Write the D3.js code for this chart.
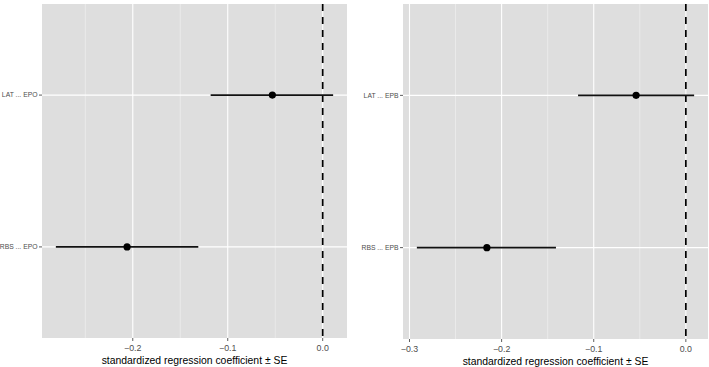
<!DOCTYPE html>
<html>
<head>
<meta charset="utf-8">
<script src="https://cdn.jsdelivr.net/npm/d3@7"></script>
<style>
  body { margin: 0; background: #fff; }
  text { font-family: "Liberation Sans", Arial, Helvetica, sans-serif; }
</style>
</head>
<body>
<div id="chart"></div>
<script>
// values (estimate, lower, upper = est ± SE)
const labelsEPO = ["LAT ... EPO", "RBS ... EPO"];
const estEPO = [-0.053, -0.206];
const lowEPO = [-0.118, -0.281];
const highEPO = [0.011, -0.131];
const ticksEPO = [-0.2, -0.1, 0.0];

const labelsEPB = ["LAT ... EPB", "RBS ... EPB"];
const estEPB = [-0.054, -0.216];
const lowEPB = [-0.117, -0.292];
const highEPB = [0.009, -0.141];
const ticksEPB = [-0.3, -0.2, -0.1, 0.0];

const xTitle = "standardized regression coefficient \u00b1 SE";

const width = 709;
const height = 367;

const svg = d3.select("#chart")
  .append("svg")
  .attr("width", width)
  .attr("height", height);

function drawPanel(p) {
  const rows = p.labels.map((lab, i) => ({ lab: lab, est: p.est[i], lo: p.lo[i], hi: p.hi[i] }));

  // ggplot style 5% expansion of the data range (including the zero line)
  const lo = Math.min(0, d3.min(p.lo));
  const hi = Math.max(0, d3.max(p.hi));
  const pad = (hi - lo) * 0.05;

  const x = d3.scaleLinear().domain([lo - pad, hi + pad]).range([p.left, p.right]);
  const y = d3.scalePoint().domain(p.labels).range([p.top, p.bottom]).padding(0.6);

  const g = svg.append("g");

  // panel background
  g.append("rect")
    .attr("x", p.left)
    .attr("y", p.top)
    .attr("width", p.right - p.left)
    .attr("height", p.bottom - p.top)
    .attr("fill", "#dedede");

  // minor grid (half way between ticks)
  const minor = [];
  const step = 0.1;
  for (let v = Math.ceil((lo - pad) / step) * step - step / 2; v < hi + pad; v += step) {
    if (v > lo - pad) minor.push(v);
  }
  g.selectAll(".minor")
    .data(minor)
    .join("line")
    .attr("class", "minor")
    .attr("x1", (d) => x(d))
    .attr("x2", (d) => x(d))
    .attr("y1", p.top)
    .attr("y2", p.bottom)
    .attr("stroke", "#f2f2f2")
    .attr("stroke-width", 0.6);

  // major grid
  g.selectAll(".vmajor")
    .data(p.ticks)
    .join("line")
    .attr("class", "vmajor")
    .attr("x1", (d) => x(d))
    .attr("x2", (d) => x(d))
    .attr("y1", p.top)
    .attr("y2", p.bottom)
    .attr("stroke", "#ffffff")
    .attr("stroke-width", 1.1);

  g.selectAll(".hmajor")
    .data(p.labels)
    .join("line")
    .attr("class", "hmajor")
    .attr("x1", p.left)
    .attr("x2", p.right)
    .attr("y1", (d) => y(d))
    .attr("y2", (d) => y(d))
    .attr("stroke", "#ffffff")
    .attr("stroke-width", 1.1);

  // dashed zero line
  g.append("line")
    .attr("x1", x(0))
    .attr("x2", x(0))
    .attr("y1", p.top)
    .attr("y2", p.bottom)
    .attr("stroke", "#000")
    .attr("stroke-width", 1.7)
    .attr("stroke-dasharray", "7,6");

  // error bars
  g.selectAll(".bar")
    .data(rows)
    .join("line")
    .attr("class", "bar")
    .attr("x1", (d) => x(d.lo))
    .attr("x2", (d) => x(d.hi))
    .attr("y1", (d) => y(d.lab))
    .attr("y2", (d) => y(d.lab))
    .attr("stroke", "#111")
    .attr("stroke-width", 1.6);

  g.selectAll(".pt")
    .data(rows)
    .join("circle")
    .attr("class", "pt")
    .attr("cx", (d) => x(d.est))
    .attr("cy", (d) => y(d.lab))
    .attr("r", 3.6)
    .attr("fill", "#000");

  // x axis ticks + labels
  g.selectAll(".xtick")
    .data(p.ticks)
    .join("line")
    .attr("class", "xtick")
    .attr("x1", (d) => x(d))
    .attr("x2", (d) => x(d))
    .attr("y1", p.bottom)
    .attr("y2", p.bottom + 3)
    .attr("stroke", "#333")
    .attr("stroke-width", 0.8);

  g.selectAll(".xlab")
    .data(p.ticks)
    .join("text")
    .attr("class", "xlab")
    .attr("x", (d) => x(d))
    .attr("y", p.bottom + 12.5)
    .attr("text-anchor", "middle")
    .attr("font-size", 8.8)
    .attr("fill", "#4d4d4d")
    .text((d) => d.toFixed(1).replace("-", "\u2212"));

  // y axis ticks + labels
  g.selectAll(".ytick")
    .data(p.labels)
    .join("line")
    .attr("class", "ytick")
    .attr("x1", p.left - 3)
    .attr("x2", p.left)
    .attr("y1", (d) => y(d))
    .attr("y2", (d) => y(d))
    .attr("stroke", "#333")
    .attr("stroke-width", 0.8);

  g.selectAll(".ylab")
    .data(p.labels)
    .join("text")
    .attr("class", "ylab")
    .attr("x", p.left - 4.5)
    .attr("y", (d) => y(d))
    .attr("dy", "0.35em")
    .attr("text-anchor", "end")
    .attr("font-size", 6.8)
    .attr("fill", "#4d4d4d")
    .text((d) => d);

  // axis title
  g.append("text")
    .attr("x", (p.left + p.right) / 2)
    .attr("y", p.bottom + 26)
    .attr("text-anchor", "middle")
    .attr("font-size", 10.4)
    .attr("fill", "#000")
    .text(xTitle);
}

drawPanel({
  labels: labelsEPO, est: estEPO, lo: lowEPO, hi: highEPO, ticks: ticksEPO,
  left: 42, right: 347, top: 4, bottom: 338
});

drawPanel({
  labels: labelsEPB, est: estEPB, lo: lowEPB, hi: highEPB, ticks: ticksEPB,
  left: 403, right: 708, top: 4, bottom: 339
});
</script>
</body>
</html>
